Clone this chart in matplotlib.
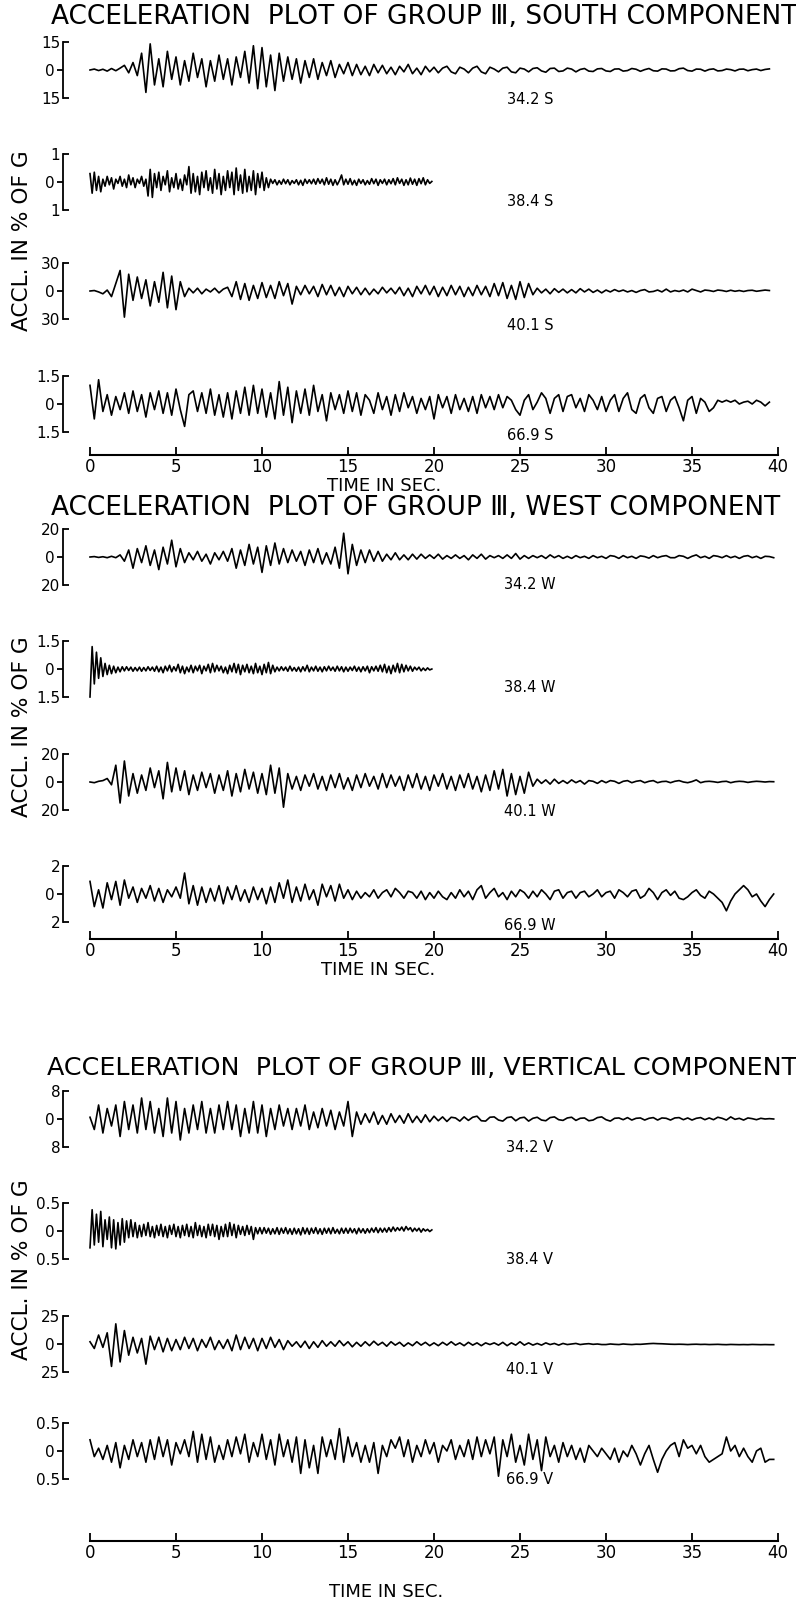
import numpy as np
import matplotlib
matplotlib.use("Agg")
import matplotlib.pyplot as plt

# ---------------- data -------------
# sample step (s) of each station record: 34.2, 38.4, 40.1, 66.9
sample_steps = [0.25, 0.125, 0.25, 0.25]
time_ticks = [0, 5, 10, 15, 20, 25, 30, 35, 40]
time_tick_labels = ["0", "5", "10", "15", "20", "25", "30", "35", "40"]
components = ["SOUTH", "WEST", "VERTICAL"]
comp_codes = ["S", "W", "V"]
stations = ["34.2", "38.4", "40.1", "66.9"]

south_scales = [15, 1, 30, 1.5]
south_scale_labels = ["15", "1", "30", "1.5"]
west_scales = [20, 1.5, 20, 2]
west_scale_labels = ["20", "1.5", "20", "2"]
vert_scales = [8, 0.5, 25, 0.5]
vert_scale_labels = ["8", "0.5", "25", "0.5"]

s_342 = [0, 0.5, -0.3, 0.4, -0.6, 0.8, -0.4, 1.0,
         2.5, -1.5, 4, -3, 9, -12, 14, -8,
         6, -9, 10, -5, 7, -8, 5, -6,
         9, -4, 6, -9, 5, -6, 8, -5,
         6, -8, 7, -4, 10, -7, 13, -10,
         12, -9, 8, -11, 9, -6, 7, -5,
         6, -7, 5, -4, 6, -5, 4, -3,
         5, -4, 3, -2, 4, -3, 3, -2.5,
         2, -3, 3, -1.5, 2.5, -2, 1.5, -2.5,
         2, -1, 3, -2, 1, -2.5, 2, -1,
         1.5, -1.5, 1, 2, -1, -2, 1.5, 0.5,
         -1.5, 1, 2, -1, -2, 1.5, 0.5, -1,
         1, 1.5, -1, -1.5, 1, 0.5, -1, 0.8,
         1.2, -0.5, -1.2, 0.8, 1, -0.8, -0.5, 1,
         0.5, -1, 0.3, 0.8, -0.6, -0.8, 0.6, 0.8,
         -0.5, -0.8, 0.5, 0.6, -0.6, -0.3, 0.8, 0.4,
         -0.7, 0.2, 0.8, -0.4, -0.6, 0.6, 0.5, -0.5,
         -0.4, 0.7, 1.0, -0.3, -0.6, 0.5, 0.4, -0.6,
         0.3, 0.6, -0.5, -0.3, 0.5, 0.2, -0.5, 0.4,
         0.5, -0.4, 0.2, 0.5, -0.3, 0.3, 0.6]
s_384 = [0.3, -0.4, 0.35, -0.3, 0.2, -0.35, 0.1, -0.15,
         0.2, -0.1, 0.15, -0.25, 0.1, -0.05, 0.2, -0.15,
         0.1, -0.2, 0.25, -0.1, 0.15, -0.2, 0.1, -0.05,
         0.2, -0.15, 0.1, -0.5, 0.45, -0.55, 0.3, -0.2,
         0.35, -0.3, 0.2, -0.1, 0.4, -0.35, 0.15, -0.2,
         0.3, -0.25, 0.1, -0.3, 0.25, -0.1, 0.55, -0.4,
         0.3, -0.35, 0.2, -0.45, 0.35, -0.2, 0.4, -0.3,
         0.15, -0.4, 0.45, -0.25, 0.3, -0.45, 0.2, -0.3,
         0.4, -0.2, 0.35, -0.45, 0.5, -0.3, 0.25, -0.4,
         0.45, -0.35, 0.2, -0.3, 0.4, -0.45, 0.3, -0.2,
         0.35, -0.3, 0.15, -0.2, 0.1, -0.05, 0.08, -0.1,
         0.05, -0.08, 0.1, -0.06, 0.08, -0.1, 0.05, -0.05,
         0.08, -0.1, 0.06, -0.12, 0.1, -0.05, 0.08, -0.06,
         0.1, -0.08, 0.12, -0.05, 0.1, -0.1, 0.15, -0.08,
         0.1, -0.12, 0.08, -0.1, 0.05, 0.25, -0.1, 0.1,
         -0.08, 0.12, -0.1, 0.06, -0.12, 0.1, -0.05, 0.08,
         -0.1, 0.05, -0.08, 0.12, -0.06, 0.1, -0.12, 0.08,
         -0.05, 0.1, -0.1, 0.08, -0.06, 0.12, -0.1, 0.15,
         -0.05, 0.1, -0.12, 0.08, -0.1, 0.14, -0.08, 0.1,
         -0.12, 0.12, -0.06, 0.15, -0.1, 0.08, -0.05, 0.02]
s_401 = [0, 0.5, -1, -3, 1, -6, 8, 22,
         -28, 18, -10, 15, -8, 12, -16, 10,
         -12, 20, -18, 16, -20, 10, -6, 3,
         -2, 3, -3, 2, -1, 3, -2, 2,
         4, -6, 10, -9, 8, -10, 6, -8,
         9, -7, 6, -8, 10, -5, 8, -14,
         5, -4, 6, -3, 5, -6, 7, -4,
         6, -5, 4, -6, 5, -3, 4, -4,
         3, -4, 2, -3, 4, -2, 3, -3,
         4, -5, 3, -6, 5, -3, 6, -4,
         5, -6, 4, -5, 6, -4, 5, -6,
         4, -5, 6, -4, 5, -6, 8, -5,
         9, -8, 6, -9, 10, -7, 8, -4,
         3, -2, 2, -3, 2.5, -1.5, 2, -2,
         1.5, -2, 2.5, -1, 2, -1.5, 1, -2,
         1, -1, 1.5, -0.5, 1, -1, 0.5, -1.5,
         0.5, 1.5, -1, -0.5, 1, -1, 2, -1,
         0.5, -0.5, 1, -1, 2, 0.5, -1, 1,
         0.5, -0.5, 1, 0.5, -0.5, 0.8, -0.3, 0.5,
         -0.5, 0.5, 0.8, -0.3, 0.3, 1, 0.5]
s_669 = [1.0, -0.8, 1.3, -0.4, 0.5, -0.6, 0.4, -0.3,
         0.6, -0.5, 0.7, -0.4, 0.5, -0.7, 0.6, -0.3,
         0.7, -0.5, 0.6, -0.6, 0.8, -0.3, -1.2, 0.5,
         0.7, -0.4, 0.6, -0.5, 0.8, -0.6, 0.5, -0.7,
         0.6, -0.8, 0.7, -0.5, 0.9, -0.6, 1.0, -0.5,
         0.8, -0.7, 0.6, -0.8, 1.2, -0.6, 0.9, -1.0,
         0.7, -0.5, 0.8, -0.6, 1.0, -0.4, 0.5, -0.9,
         0.6, -0.3, 0.5, -0.5, 0.7, -0.4, 0.6, -0.6,
         0.5, 0.2, -0.5, 0.6, -0.3, 0.4, -0.6, 0.5,
         -0.4, 0.6, -0.2, 0.4, -0.5, 0.3, -0.3, 0.4,
         -0.8, 0.5, -0.2, 0.4, -0.5, 0.5, -0.3, 0.3,
         -0.4, 0.4, -0.5, 0.5, -0.2, 0.4, -0.3, 0.5,
         -0.2, 0.4, 0.2, -0.3, -0.6, 0.2, 0.5, -0.3,
         0.1, 0.6, 0.3, -0.5, 0.3, 0.5, -0.4, 0.4,
         0.5, -0.2, 0.3, -0.4, 0.5, 0.2, -0.3, 0.4,
         -0.4, 0.2, 0.5, -0.4, 0.3, 0.6, -0.3, -0.5,
         0.3, 0.5, -0.2, -0.5, 0.3, 0.4, -0.4, 0.2,
         0.4, -0.2, -0.9, 0.2, 0.4, -0.5, 0.3, 0.1,
         -0.4, -0.2, 0.2, 0.1, 0.2, 0.1, 0.2, 0.0,
         0.1, 0.15, 0.0, 0.2, 0.1, -0.1, 0.1]

w_342 = [0, 0.3, -0.3, 0.2, -0.5, 0.5, -0.5, 1.5,
         -3, 5, -8, 6, -4, 8, -6, 5,
         -9, 7, -5, 12, -7, 6, -4, 3,
         -2, 4, -3, 2, -5, 3, -2, 4,
         -3, 6, -8, 5, -6, 9, -5, 7,
         -11, 8, -6, 10, -5, 6, -4, 5,
         -3, 4, -6, 5, -4, 6, -5, 3,
         -5, 7, -8, 17, -12, 9, -6, 5,
         -4, 5, -3, 4, -3, 2, -2, 3,
         -2, 1.5, -2, 2, -1.5, 2, -1, 1.5,
         -1, 2, -1.5, 1, -1, 1.5, -1, 1,
         -2, 1.5, -1, 2, -1.5, 1, -0.5, 1,
         -1, 1.5, -1, 2.5, -1.5, 1, -1, 1,
         -0.5, 1, -1, 1.5, -0.5, 1, -1, 0.5,
         -1, 1, -0.5, 0.5, -1, 1, -0.5, 0.5,
         -1, 1, 0.5, -1, 1, -0.5, 0.5, -1,
         0.8, 0.3, -0.8, 1, -0.5, 0.5, 1, -0.5,
         -0.5, 1, 0.5, -1, 0.5, 1.5, -0.5, 0.5,
         -1, 1, 0.5, -0.5, 1, -0.5, 0.5, -1,
         0.5, 1, -0.5, 0.5, -1, 0.5, 0.3, -0.5]
w_384 = [-1.5, 1.2, -0.8, 0.9, -0.5, 0.6, -0.4, 0.3,
         -0.3, 0.2, -0.25, 0.15, -0.2, 0.1, -0.15, 0.12,
         -0.1, 0.12, -0.08, 0.1, -0.12, 0.08, -0.1, 0.1,
         -0.12, 0.08, -0.1, 0.12, -0.08, 0.1, -0.12, 0.15,
         -0.15, 0.1, -0.2, 0.15, -0.1, 0.2, -0.15, 0.12,
         -0.1, 0.25, -0.2, 0.15, -0.25, 0.1, -0.15, 0.2,
         -0.2, 0.15, -0.1, 0.2, -0.25, 0.15, -0.1, 0.25,
         -0.2, 0.3, -0.15, 0.2, -0.1, 0.15, -0.2, 0.1,
         -0.25, 0.2, -0.15, 0.3, -0.2, 0.25, -0.3, 0.2,
         -0.15, 0.25, -0.2, 0.15, -0.25, 0.3, -0.2, 0.15,
         -0.3, 0.25, -0.2, 0.35, -0.25, 0.2, -0.15, 0.1,
         -0.1, 0.12, -0.08, 0.1, -0.12, 0.15, -0.1, 0.08,
         -0.12, 0.1, -0.15, 0.12, -0.1, 0.2, -0.15, 0.1,
         -0.1, 0.15, -0.12, 0.1, -0.15, 0.12, -0.1, 0.15,
         -0.08, 0.1, -0.12, 0.15, -0.1, 0.12, -0.15, 0.1,
         -0.12, 0.1, -0.08, 0.15, -0.12, 0.1, -0.15, 0.12,
         -0.1, 0.15, -0.2, 0.12, -0.1, 0.15, -0.12, 0.2,
         -0.15, 0.25, -0.2, 0.15, -0.25, 0.2, -0.15, 0.3,
         -0.2, 0.25, -0.15, 0.2, -0.1, 0.15, -0.12, 0.1,
         -0.05, 0.1, -0.1, 0.05, -0.08, 0.06, -0.05, 0.0]
w_401 = [0, -0.5, 0.5, 1, 2.5, -2, 12, -15,
         15, -10, 6, -8, 5, -6, 10, -4,
         8, -12, 14, -7, 10, -6, 8, -9,
         5, -6, 7, -4, 6, -8, 5, -6,
         8, -10, 6, -7, 9, -5, 7, -8,
         6, -9, 12, -8, 10, -18, 6, -5,
         4, -6, 5, -3, 6, -5, 4, -6,
         5, -4, 6, -5, 3, -6, 5, -4,
         6, -3, 4, -5, 6, -4, 5, -3,
         4, -6, 5, -4, 6, -5, 4, -6,
         5, -3, 6, -5, 4, -6, 5, -4,
         6, -5, 4, -7, 5, -6, 8, -5,
         9, -10, 6, -9, 4, -8, 7, -3,
         2, -1, 1.5, -1.5, 2, -1, 1, -1,
         1.5, -0.5, 1, -1.5, 1, 0.5, -1, 1,
         -0.5, 1, 0.5, -1, 0.5, 1, -0.5, 0.5,
         1, -0.5, 0.5, 1, -0.5, 0.3, 0.5, -0.5,
         0.5, 1, 0, -0.5, 0.3, 1.5, -0.5, 0.3,
         0.5, 0.2, -0.3, 0.3, 0.5, -0.5, 0.2, 0.5,
         0.3, -0.3, 0.2, 0.5, 0.3, 0, 0.3, 0.2]
w_669 = [0.9, -0.9, 0.3, -1.0, 0.8, -0.4, 0.9, -0.8,
         1.0, -0.3, 0.5, -0.6, 0.4, -0.3, 0.6, -0.5,
         0.4, -0.6, 0.3, -0.2, 0.5, -0.3, 1.5, -0.7,
         0.6, -0.8, 0.5, -0.6, 0.4, -0.5, 0.6, -0.7,
         0.5, -0.4, 0.6, -0.5, 0.3, -0.6, 0.5, -0.4,
         0.4, -0.7, 0.5, -0.6, 0.8, -0.3, 1.0, -0.6,
         0.5, -0.5, 0.7, -0.4, 0.3, -0.8, 0.7, -0.2,
         0.6, -0.5, 0.7, -0.3, 0.3, -0.4, 0.2, -0.3,
         0.1, -0.2, 0.3, -0.3, 0.1, 0.3, -0.2, 0.4,
         0.1, -0.3, 0.2, 0.1, -0.3, 0.2, -0.4, 0.1,
         -0.3, 0.2, -0.2, -0.4, 0.1, -0.3, 0.3, -0.2,
         0.2, -0.4, 0.3, 0.6, -0.3, 0.1, 0.4, -0.2,
         0.1, -0.4, 0.2, -0.2, 0.3, 0.1, -0.3, 0.2,
         -0.2, 0.3, 0.0, -0.4, 0.2, 0.3, -0.3, 0.1,
         0.2, -0.3, 0.1, 0.2, -0.2, 0.0, 0.3, -0.2,
         0.1, 0.2, -0.3, 0.3, 0.1, -0.2, 0.2, 0.3,
         -0.3, -0.1, 0.4, 0.1, -0.4, 0.1, 0.3, -0.1,
         0.2, -0.3, -0.4, -0.2, 0.1, 0.3, -0.1, -0.3,
         0.2, 0.0, -0.3, -0.6, -1.2, -0.5, 0.0, 0.3,
         0.6, 0.3, -0.2, 0.0, -0.5, -0.9, -0.4, 0.0]

v_342 = [0.5, -3, 4, -4, 3, -2, 4, -5,
         5, -3, 4, -4, 6, -3, 5, -4,
         3, -5, 6, -4, 5, -6, 3, -4,
         4, -3, 5, -4, 3, -4, 4, -3,
         5, -3, 4, -5, 3, -4, 5, -4,
         4, -5, 3, -3, 4, -2, 3, -3,
         3, -2, 4, -3, 2, -2.5, 3, -2,
         2.5, -3, 2, -2, 5, -5, 2, -1.5,
         1.5, -1, 2, -1.5, 1, -1.5, 1.5, -1,
         1, -1.2, 1.5, -1, 0.8, -1, 1.2, -0.8,
         0.8, -0.5, 0.6, -0.7, 0.5, 0.3, -0.6, 0.6,
         -0.4, 0.5, 0.8, -0.5, -0.6, 0.5, 0.6, -0.3,
         -0.6, 0.4, 0.6, -0.5, 0.3, 0.5, -0.6, 0.2,
         0.5, -0.3, -0.5, 0.4, 0.6, -0.2, -0.4, 0.3,
         0.5, -0.4, 0.2, 0.3, -0.5, -0.3, 0.4, 0.6,
         -0.2, -0.6, 0.2, 0.3, -0.2, 0.4, -0.3, 0.2,
         0.3, -0.3, 0.2, 0.4, -0.3, 0.3, 0.2, -0.3,
         0.3, 0.4, -0.2, 0.3, -0.3, 0.2, 0.4, -0.2,
         0.3, -0.2, 0.5, 0.2, -0.3, 0.6, -0.1, 0.2,
         -0.3, 0.3, 0.1, -0.2, 0.2, 0.0, 0.1, 0.0]
v_384 = [-0.3, 0.38, -0.25, 0.3, -0.2, 0.35, -0.28, 0.2,
         -0.15, 0.25, -0.3, 0.2, -0.32, 0.15, -0.25, 0.22,
         -0.2, 0.18, -0.12, 0.2, -0.1, 0.15, -0.12, 0.1,
         -0.1, 0.12, -0.08, 0.15, -0.1, 0.08, -0.12, 0.1,
         -0.08, 0.12, -0.1, 0.08, -0.12, 0.1, -0.06, 0.12,
         -0.1, 0.08, -0.12, 0.1, -0.08, 0.12, -0.1, 0.08,
         -0.12, 0.15, -0.08, 0.1, -0.1, 0.08, -0.12, 0.12,
         -0.08, 0.12, -0.1, 0.1, -0.15, 0.08, -0.1, 0.12,
         -0.1, 0.15, -0.08, 0.12, -0.12, 0.1, -0.06, 0.08,
         -0.08, 0.1, -0.06, 0.08, -0.15, 0.06, -0.05, 0.06,
         -0.05, 0.06, -0.04, 0.05, -0.06, 0.04, -0.05, 0.06,
         -0.06, 0.05, -0.04, 0.06, -0.05, 0.04, -0.06, 0.05,
         -0.05, 0.04, -0.07, 0.06, -0.05, 0.05, -0.06, 0.05,
         -0.04, 0.06, -0.05, 0.04, -0.06, 0.05, -0.04, 0.05,
         -0.05, 0.06, -0.04, 0.03, -0.05, 0.05, -0.04, 0.05,
         -0.04, 0.05, -0.03, 0.04, -0.05, 0.05, -0.03, 0.04,
         -0.04, 0.04, -0.03, 0.05, -0.02, 0.06, -0.03, 0.05,
         -0.02, 0.05, -0.02, 0.06, -0.01, 0.07, 0.0, 0.06,
         0.01, 0.07, 0.0, 0.08, 0.02, 0.06, -0.01, 0.05,
         0.0, 0.05, -0.02, 0.04, 0.0, 0.03, -0.01, 0.02]
v_401 = [2, -4, 8, -3, 10, -20, 18, -16,
         12, -10, 6, -8, 5, -18, 7, -5,
         6, -7, 5, -6, 4, -5, 6, -4,
         5, -6, 4, -3, 6, -5, 3, -4,
         4, -6, 8, -5, 6, -4, 5, -6,
         5, -4, 6, -3, 4, -5, 3, -2,
         2, -3, 2.5, -4, 2, -3, 3, -2,
         2, -2, 3, -1.5, 2, -2.5, 1.5, -2,
         2, -1.5, 2.5, -1, 1.5, -2, 2, -1,
         1.5, -2, 1, -1.5, 2, -1, 1.5, -1.5,
         1, -1.5, 1.5, -1, 2, -1, 1, -1.5,
         1.5, -1, 1, -1.5, 1, -0.5, 1, -1,
         1.5, -1.5, 1, -1, 2, -1, 1, -1,
         0.5, -1, 1, -0.5, 0.5, -1, 0.5, -0.5,
         0, 0.5, -0.5, 0, 0.3, -0.3, 0, -0.5,
         -0.5, 0, -0.3, -0.5, 0, -0.3, -0.5, -0.2,
         -0.3, 0, 0.3, 0.5, 0.3, 0.2, 0, -0.2,
         -0.3, -0.2, -0.3, -0.5, -0.3, -0.2, -0.4, -0.3,
         -0.5, -0.4, -0.3, -0.5, -0.6, -0.4, -0.5, -0.6,
         -0.5, -0.6, -0.4, -0.5, -0.6, -0.5, -0.6, -0.6]
v_669 = [0.2, -0.1, 0.05, -0.15, 0.1, -0.2, 0.15, -0.3,
         0.1, -0.15, 0.2, -0.1, 0.15, -0.2, 0.2, -0.15,
         0.25, -0.1, 0.2, -0.25, 0.15, -0.05, 0.2, -0.1,
         0.35, -0.2, 0.3, -0.15, 0.25, -0.2, 0.1, -0.15,
         0.2, -0.1, 0.25, -0.05, 0.3, -0.2, 0.15, -0.1,
         0.3, -0.15, 0.2, -0.25, 0.3, -0.1, 0.2, -0.2,
         0.25, -0.4, 0.2, -0.3, 0.1, -0.4, 0.25, -0.1,
         0.2, -0.15, 0.4, -0.2, 0.25, -0.1, 0.15, -0.2,
         0.1, -0.2, 0.15, -0.4, 0.1, -0.1, 0.2, 0.05,
         0.25, -0.1, 0.2, -0.2, 0.1, -0.1, 0.2, -0.05,
         0.15, -0.2, 0.1, 0.0, 0.2, -0.15, 0.1, -0.1,
         0.2, -0.15, 0.25, -0.1, 0.2, -0.05, 0.25, -0.45,
         0.2, -0.1, 0.3, -0.2, 0.1, -0.25, 0.3, -0.15,
         0.2, -0.35, 0.25, -0.1, 0.1, -0.2, 0.15, -0.1,
         0.1, -0.15, 0.05, -0.2, 0.1, 0.0, -0.1, 0.05,
         -0.05, -0.15, 0.05, -0.2, 0.0, -0.1, 0.1, -0.05,
         -0.25, -0.05, 0.1, -0.15, -0.38, -0.15, 0.0, 0.1,
         0.15, -0.1, 0.2, 0.05, 0.1, -0.05, 0.1, -0.1,
         -0.2, -0.15, -0.1, -0.05, 0.25, 0.0, 0.1, -0.1,
         0.05, -0.1, -0.2, 0.0, 0.05, -0.2, -0.15, -0.15]

south_traces = [s_342, s_384, s_401, s_669]
west_traces = [w_342, w_384, w_401, w_669]
vert_traces = [v_342, v_384, v_401, v_669]

# ---------------- layout (pixels in the 796 x 1603 picture) ----------------
W, H = 796, 1603
X0, X1 = 90, 778          # t = 0 s and t = 40 s
BRACKET_X = 63
HALF = 28
groups_layout = [
    dict(title_x=51, title_w=745, title_y=17, zeros=[70, 182, 291, 404],
         lab_y=[99, 201, 325, 436], axis_y=455, time_y=486, ylab_y=241, time_x=384),
    dict(title_x=51, title_w=729, title_y=508, zeros=[557, 669, 782, 894],
         lab_y=[584, 687, 812, 925], axis_y=939, time_y=970, ylab_y=727, time_x=378),
    dict(title_x=47, title_w=747, title_y=1068, zeros=[1119, 1231, 1344, 1451],
         lab_y=[1147, 1260, 1369, 1480], axis_y=1541, time_y=1592, ylab_y=1270, time_x=386),
]
LAB_X = 530
FONT = "DejaVu Sans"

fig = plt.figure(figsize=(W / 100, H / 100), dpi=100)
fig.patch.set_facecolor("white")
renderer = fig.canvas.get_renderer()


def fx(px):
    return px / W


def fy(py):
    return 1 - py / H


def fit_text(x, y, s, length, rotation=0, **kw):
    t = fig.text(fx(x), fy(y), s, fontsize=10, rotation=rotation, family=FONT, **kw)
    bb = t.get_window_extent(renderer)
    cur = bb.height if rotation else bb.width
    t.set_fontsize(10 * length / cur)
    return t


all_scales = [south_scales, west_scales, vert_scales]
all_scale_labels = [south_scale_labels, west_scale_labels, vert_scale_labels]
all_traces = [south_traces, west_traces, vert_traces]

for g, lay in enumerate(groups_layout):
    fit_text(lay["title_x"], lay["title_y"],
             f"ACCELERATION  PLOT OF GROUP \u2162, {components[g]} COMPONENT",
             lay["title_w"], ha="left", va="center")
    fit_text(22, lay["ylab_y"], "ACCL. IN % OF G", 180, rotation=90,
             ha="center", va="center")
    for k in range(4):
        z = lay["zeros"][k]
        A = all_scales[g][k]
        ax = fig.add_axes([fx(X0), fy(z + HALF), fx(X1) - fx(X0), 2 * HALF / H])
        ax.set_facecolor("none")
        y = np.array(all_traces[g][k], dtype=float)
        t = np.arange(len(y)) * sample_steps[k]
        ax.plot(t, y, color="black", lw=1.2, clip_on=False)
        ax.set_xlim(0, 40)
        ax.set_ylim(-A, A)
        for side in ("top", "right", "bottom"):
            ax.spines[side].set_visible(False)
        ax.spines["left"].set_position(("outward", (X0 - BRACKET_X) * 72 / 100))
        ax.spines["left"].set_linewidth(1.3)
        ax.set_xticks([])
        ax.set_yticks([-A, A])
        ax.set_yticklabels([all_scale_labels[g][k], all_scale_labels[g][k]])
        ax.set_yticks([0], minor=True)
        ax.set_yticklabels(["0"], minor=True)
        ax.tick_params(axis="y", which="major", direction="in", length=4, width=1.3,
                       pad=2, labelsize=11)
        ax.tick_params(axis="y", which="minor", direction="out", length=4, width=1.3,
                       pad=2, labelsize=11)
        for lbl in ax.get_yticklabels() + ax.get_yticklabels(minor=True):
            lbl.set_family(FONT)
        fig.text(fx(LAB_X), fy(lay["lab_y"][k]), f"{stations[k]} {comp_codes[g]}",
                 ha="center", va="center", fontsize=10.5, family=FONT)
    # time axis
    tax = fig.add_axes([fx(X0), fy(lay["axis_y"]), fx(X1) - fx(X0), 10 / H])
    tax.set_facecolor("none")
    for side in ("top", "right", "left"):
        tax.spines[side].set_visible(False)
    tax.spines["bottom"].set_linewidth(1.5)
    tax.set_xlim(0, 40)
    tax.set_yticks([])
    tax.set_xticks(time_ticks)
    tax.set_xticklabels(time_tick_labels, family=FONT)
    tax.tick_params(axis="x", direction="in", length=6, width=1.3, pad=2, labelsize=12)
    fit_text(lay["time_x"], lay["time_y"], "TIME IN SEC.", 114, ha="center", va="center")

fig.savefig("out.png", dpi=100, facecolor="white")
